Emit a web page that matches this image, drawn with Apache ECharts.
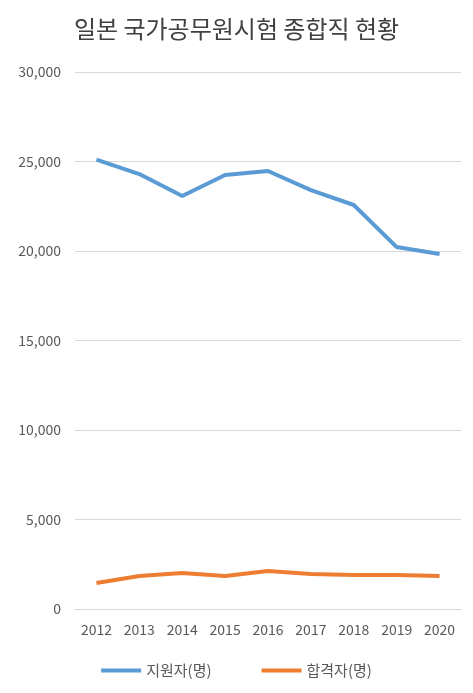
<!DOCTYPE html>
<html>
<head>
<meta charset="utf-8">
<script src="https://cdn.jsdelivr.net/npm/echarts@6/dist/echarts.min.js"></script>
<style>html,body{margin:0;padding:0;background:#fff}#chart{width:473px;height:693px}</style>
</head>
<body>
<div id="chart"></div>
<script>
var years = ['2012', '2013', '2014', '2015', '2016', '2017', '2018', '2019', '2020'];
var applicants = [25100, 24300, 23070, 24250, 24470, 23400, 22570, 20220, 19830];
var passers = [1450, 1840, 2010, 1840, 2120, 1950, 1900, 1900, 1840];

var myChart = echarts.init(document.getElementById('chart'));
var font = '"Malgun Gothic","Noto Sans CJK KR",sans-serif';
myChart.setOption({
    animation: false,
    title: {
        text: '일본 국가공무원시험 종합직 현황',
        left: 'center',
        top: 12,
        textStyle: {fontFamily: font, fontSize: 24, fontWeight: 'normal', color: '#404040'}
    },
    legend: {
        bottom: 10,
        itemWidth: 40,
        itemGap: 50,
        icon: 'rect',
        itemHeight: 4,
        textStyle: {fontFamily: font, fontSize: 15, color: '#595959'},
        data: ['지원자(명)', '합격자(명)']
    },
    grid: {left: 75, right: 12, top: 72, bottom: 84},
    xAxis: {
        type: 'category',
        data: years,
        axisLine: {lineStyle: {color: '#d9d9d9'}},
        axisTick: {show: false},
        axisLabel: {fontFamily: font, fontSize: 14, color: '#595959', margin: 14}
    },
    yAxis: {
        type: 'value',
        min: 0,
        max: 30000,
        interval: 5000,
        axisLine: {show: false},
        axisTick: {show: false},
        splitLine: {lineStyle: {color: '#d9d9d9'}},
        axisLabel: {
            fontFamily: font, fontSize: 14, color: '#595959', margin: 14,
            formatter: function (v) { return v.toLocaleString('en-US'); }
        }
    },
    series: [{
        name: '지원자(명)',
        type: 'line',
        data: applicants,
        symbol: 'none',
        lineStyle: {width: 4, color: '#5b9bd5'},
        itemStyle: {color: '#5b9bd5'}
    }, {
        name: '합격자(명)',
        type: 'line',
        data: passers,
        symbol: 'none',
        lineStyle: {width: 4, color: '#ed7d31'},
        itemStyle: {color: '#ed7d31'}
    }]
});
</script>
</body>
</html>
